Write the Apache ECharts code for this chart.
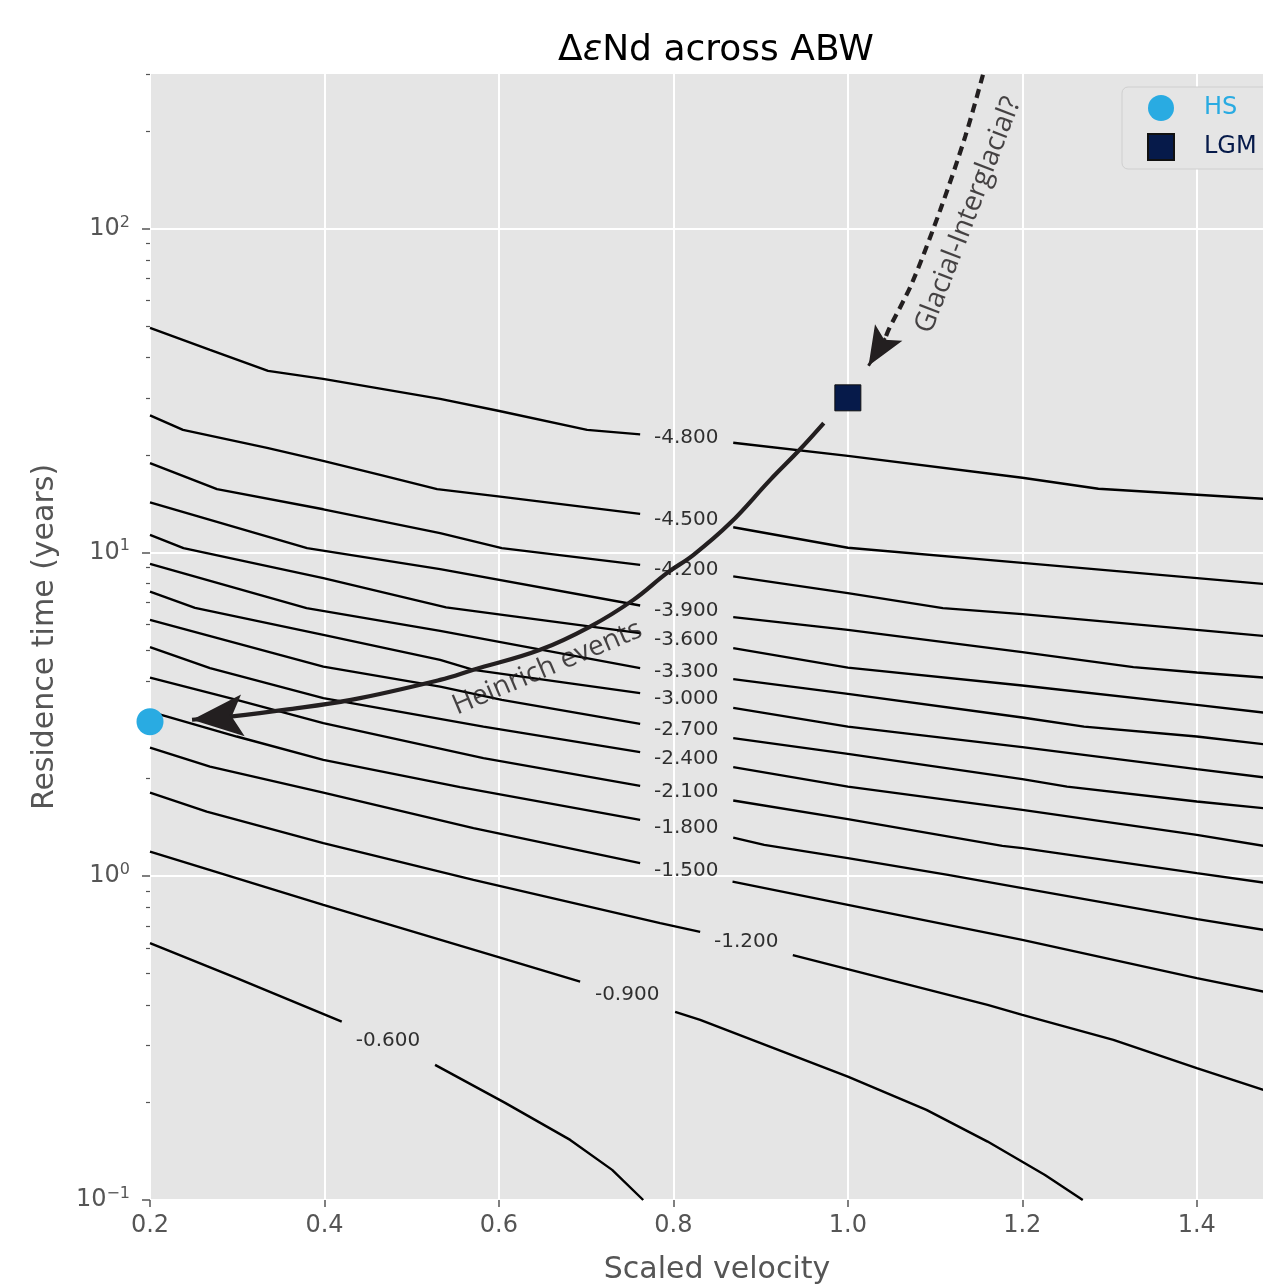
<!DOCTYPE html>
<html>
<head>
<meta charset="utf-8">
<title>ΔεNd across ABW</title>
<script src="https://cdn.jsdelivr.net/npm/echarts@6/dist/echarts.min.js"></script>
<style>
  html, body { margin: 0; padding: 0; background: #fff; }
  #chart { width: 1263px; height: 1286px; }
</style>
</head>
<body>
<div id="chart"></div>
<script>
// contour levels and where their inline labels sit
const levelValues = [-4.8, -4.5, -4.2, -3.9, -3.6, -3.3, -3.0, -2.7, -2.4, -2.1, -1.8, -1.5, -1.2, -0.9, -0.6];
const labelPoints = [
  [0.8147, 22.57], [0.8147, 12.60], [0.8147, 8.831], [0.8147, 6.596], [0.8147, 5.369],
  [0.8147, 4.275], [0.8147, 3.528], [0.8147, 2.830], [0.8147, 2.303], [0.8147, 1.821],
  [0.8147, 1.410], [0.8147, 1.038], [0.8835, 0.6268], [0.7470, 0.4298], [0.4729, 0.3099]
];

// each contour: [left of label, right of label], points are [velocity, residence time]
const line_4_8 = [
  [[0.2, 49.35], [0.2688, 42.22], [0.3353, 36.35], [0.3984, 34.34], [0.5326, 29.79], [0.5991, 27.36], [0.7011, 23.89], [0.7619, 23.14]],
  [[0.8686, 21.79], [1.0, 19.86], [1.2, 16.99], [1.2872, 15.71], [1.4764, 14.63]]
];
const line_4_5 = [
  [[0.2, 26.49], [0.2378, 23.89], [0.3342, 21.02], [0.3984, 19.17], [0.4638, 17.35], [0.5291, 15.68], [0.5991, 14.89], [0.7619, 13.15]],
  [[0.8686, 11.95], [1.0, 10.33], [1.2, 9.28], [1.4764, 7.99]]
];
const line_4_2 = [
  [[0.2, 18.86], [0.2768, 15.68], [0.3987, 13.58], [0.5326, 11.46], [0.6033, 10.30], [0.7619, 9.149]],
  [[0.8686, 8.432], [1.0, 7.482], [1.1089, 6.725], [1.2, 6.444], [1.4, 5.763], [1.4764, 5.521]]
];
const line_3_9 = [
  [[0.2, 14.27], [0.3801, 10.30], [0.5326, 8.874], [0.7619, 6.850]],
  [[0.8686, 6.308], [1.0, 5.763], [1.2, 4.918], [1.3273, 4.421], [1.4, 4.254], [1.4764, 4.105]]
];
const line_3_6 = [
  [[0.2, 11.32], [0.2384, 10.30], [0.3987, 8.324], [0.5394, 6.763], [0.7619, 5.630]],
  [[0.8686, 5.059], [1.0, 4.407], [1.2, 3.878], [1.4, 3.381], [1.4764, 3.200]]
];
const line_3_3 = [
  [[0.2, 9.215], [0.3795, 6.725], [0.5326, 5.722], [0.7619, 4.389]],
  [[0.8686, 4.059], [1.0, 3.656], [1.2, 3.089], [1.2708, 2.897], [1.4, 2.699], [1.4764, 2.557]]
];
const line_3_0 = [
  [[0.2, 7.566], [0.2516, 6.739], [0.3987, 5.561], [0.5326, 4.656], [0.5708, 4.337], [0.7619, 3.675]],
  [[0.8686, 3.309], [1.0, 2.897], [1.2, 2.503], [1.4, 2.141], [1.4764, 2.021]]
];
const line_2_7 = [
  [[0.2, 6.187], [0.3987, 4.439], [0.5326, 3.850], [0.6033, 3.503], [0.7619, 2.954]],
  [[0.8686, 2.669], [1.0, 2.386], [1.2, 1.993], [1.2513, 1.891], [1.4, 1.700], [1.4764, 1.622]]
];
const line_2_4 = [
  [[0.2, 5.096], [0.2688, 4.389], [0.3987, 3.545], [0.5822, 2.897], [0.7619, 2.416]],
  [[0.8686, 2.171], [1.0, 1.891], [1.2, 1.602], [1.4, 1.341], [1.4764, 1.2405]]
];
const line_2_1 = [
  [[0.2, 4.105], [0.2994, 3.503], [0.3987, 2.968], [0.5822, 2.314], [0.7619, 1.901]],
  [[0.8686, 1.712], [1.0, 1.500], [1.1771, 1.2405], [1.2, 1.2204], [1.4, 1.0216], [1.4764, 0.9554]]
];
const line_1_8 = [
  [[0.2, 3.223], [0.2994, 2.699], [0.3987, 2.287], [0.5555, 1.883], [0.7619, 1.4923]],
  [[0.8686, 1.3156], [0.9041, 1.2494], [1.0, 1.1366], [1.1148, 1.0093], [1.2, 0.9182], [1.4007, 0.7365], [1.4764, 0.6827]]
];
const line_1_5 = [
  [[0.2, 2.496], [0.2688, 2.180], [0.3987, 1.812], [0.5708, 1.4067], [0.7619, 1.0967]],
  [[0.8678, 0.9623], [1.0, 0.8155], [1.2, 0.6357], [1.4, 0.4842], [1.4764, 0.4402]]
];
const line_1_2 = [
  [[0.2, 1.812], [0.2650, 1.583], [0.3987, 1.2644], [0.5708, 0.9741], [0.7849, 0.7158], [0.8307, 0.6730]],
  [[0.9369, 0.5702], [1.1602, 0.4005], [1.2, 0.3729], [1.3044, 0.3122], [1.4, 0.2553], [1.4764, 0.2188]]
];
const line_0_9 = [
  [[0.2, 1.1912], [0.3987, 0.8155], [0.5976, 0.5646], [0.6931, 0.4726]],
  [[0.8020, 0.3810], [0.8307, 0.3599], [1.0, 0.2405], [1.0901, 0.1898], [1.1602, 0.1515], [1.2260, 0.1195], [1.2693, 0.1]]
];
const line_0_6 = [
  [[0.2, 0.6210], [0.2994, 0.4842], [0.4198, 0.3556]],
  [[0.5268, 0.2613], [0.6071, 0.1995], [0.6817, 0.1533], [0.7298, 0.1239], [0.7654, 0.1]]
];
const contourLines = [line_4_8, line_4_5, line_4_2, line_3_9, line_3_6, line_3_3, line_3_0,
  line_2_7, line_2_4, line_2_1, line_1_8, line_1_5, line_1_2, line_0_9, line_0_6];

// states
const hsPoint = [0.2, 3.0];
const lgmPoint = [1.0, 30.0];

// annotation arrows (last point is the arrow tip)
const heinrichPath = [[0.9724, 25.06], [0.9447, 20.73], [0.9110, 16.74], [0.8651, 12.31], [0.8231, 9.824],
  [0.7925, 8.625], [0.7542, 7.133], [0.7046, 5.899], [0.6472, 5.000], [0.5708, 4.337], [0.5326, 4.038],
  [0.4305, 3.503], [0.3537, 3.263], [0.2917, 3.111], [0.2482, 3.039]];
const glacialPath = [[1.1549, 298.4], [1.1346, 192.4], [1.1060, 114.24], [1.0735, 67.82], [1.0467, 48.66],
  [1.0429, 45.87], [1.0237, 37.67]];
const heinrichTextAt = [0.6553, 4.398];
const glacialTextAt = [1.1380, 110.0];

// ticks
const xTickValues = [0.2, 0.4, 0.6, 0.8, 1.0, 1.2, 1.4];
const yMajorTicks = [0.1, 1, 10, 100];
const yMinorTicks = [0.2, 0.3, 0.4, 0.5, 0.6, 0.7, 0.8, 0.9, 2, 3, 4, 5, 6, 7, 8, 9,
  20, 30, 40, 50, 60, 70, 80, 90, 200, 300];

const font = 'DejaVu Sans';
const tickColor = '#555555';
const arrowColor = '#231F20';
// arrow head drawn with its tip at the centre of the symbol box
const arrowHead = 'path://M0,0M100,100M50,50L70.5,100L50,89L29.5,100Z';
// square legend icon centred in a 76 x 26 item box
const squareIcon = 'path://M0,0M76,26M25,0L51,0L51,26L25,26Z';

const chart = echarts.init(document.getElementById('chart'));

function powerLabel(v) {
  const p = Math.round(Math.log10(v));
  return '{b|10}{s|' + (p < 0 ? '\u2212' + (-p) : p) + '}';
}

const series = [];

contourLines.forEach((segs, i) => {
  segs.forEach(seg => {
    series.push({
      name: 'level ' + levelValues[i],
      type: 'line',
      data: seg,
      symbol: 'none',
      silent: true,
      z: 2,
      lineStyle: { color: '#000', width: 2.4 }
    });
  });
});

series.push({
  name: 'level labels',
  type: 'scatter',
  symbolSize: 0,
  silent: true,
  z: 3,
  data: labelPoints.map((p, i) => ({ value: p, label: { formatter: levelValues[i].toFixed(3) } })),
  label: { show: true, position: 'inside', color: '#000', fontSize: 20, fontFamily: font }
});

series.push({
  name: 'heinrich',
  type: 'line',
  data: heinrichPath.slice(0, -1),
  symbol: 'none',
  smooth: 0.4,
  silent: true,
  z: 4,
  lineStyle: { color: arrowColor, width: 4.2 }
});
series.push({
  name: 'heinrich head',
  type: 'lines',
  coordinateSystem: 'cartesian2d',
  silent: true,
  z: 4,
  symbol: ['none', arrowHead],
  symbolSize: 102,
  lineStyle: { color: arrowColor, width: 4, opacity: 1 },
  data: [{ coords: heinrichPath.slice(-2) }]
});

series.push({
  name: 'glacial',
  type: 'line',
  data: glacialPath.slice(0, -1),
  symbol: 'none',
  smooth: 0.3,
  silent: true,
  z: 4,
  lineStyle: { color: arrowColor, width: 4.2, type: [9, 6] }
});
series.push({
  name: 'glacial head',
  type: 'lines',
  coordinateSystem: 'cartesian2d',
  silent: true,
  z: 4,
  symbol: ['none', arrowHead],
  symbolSize: 78,
  lineStyle: { color: arrowColor, width: 3, opacity: 1 },
  data: [{ coords: glacialPath.slice(-2) }]
});

series.push({
  name: 'notes',
  type: 'scatter',
  symbolSize: 0,
  silent: true,
  z: 5,
  data: [
    { value: heinrichTextAt, label: { formatter: 'Heinrich events', rotate: 23 } },
    { value: glacialTextAt, label: { formatter: 'Glacial-Interglacial?', rotate: 69 } }
  ],
  label: { show: true, position: 'inside', color: '#1c1819', fontSize: 28, fontFamily: 'Open Sans' }
});

series.push({
  name: 'HS',
  type: 'scatter',
  data: [hsPoint],
  symbol: 'circle',
  symbolSize: 27,
  clip: false,
  z: 6,
  itemStyle: { color: '#29ABE2', opacity: 1 }
});
series.push({
  name: 'LGM',
  type: 'scatter',
  data: [lgmPoint],
  symbol: 'rect',
  symbolSize: 26,
  clip: false,
  z: 6,
  itemStyle: { color: '#061A4A', borderColor: '#111', borderWidth: 1, opacity: 1 }
});

const option = {
  animation: false,
  backgroundColor: '#ffffff',
  title: {
    text: '{n|\u0394}{i|\u03b5}{n|Nd across ABW}',
    left: 711,
    top: 28,
    textAlign: 'center',
    textStyle: {
      fontWeight: 'normal',
      rich: {
        n: { fontSize: 36, fontFamily: font, fontWeight: 'normal', color: '#000' },
        i: { fontSize: 36, fontFamily: font, fontWeight: 'normal', fontStyle: 'italic', color: '#000' }
      }
    }
  },
  legend: {
    data: [
      { name: 'HS', textStyle: { color: '#29ABE2' } },
      { name: 'LGM', icon: squareIcon, textStyle: { color: '#061A4A' } }
    ],
    orient: 'vertical',
    left: 1122,
    top: 87,
    itemWidth: 76,
    itemHeight: 26,
    itemGap: 12,
    padding: [8, 40, 8, 0],
    backgroundColor: '#E5E5E5',
    borderColor: '#CFCFCF',
    borderWidth: 1,
    borderRadius: 6,
    selectedMode: false,
    textStyle: { fontSize: 24, fontFamily: font }
  },
  grid: {
    left: 150,
    top: 74,
    right: -21,
    bottom: 86,
    show: true,
    backgroundColor: '#E5E5E5',
    borderWidth: 0,
    containLabel: false,
    outerBoundsMode: 'none'
  },
  xAxis: {
    type: 'value',
    min: 0.2,
    max: 1.5,
    interval: 0.2,
    name: 'Scaled velocity',
    nameLocation: 'middle',
    nameGap: 55,
    nameTextStyle: { color: tickColor, fontSize: 30, fontFamily: font },
    axisLine: { show: false },
    axisTick: { show: true, length: 7, customValues: xTickValues, lineStyle: { color: tickColor, width: 1.5 } },
    axisLabel: {
      customValues: xTickValues,
      color: tickColor, fontSize: 24, fontFamily: font, margin: 14,
      formatter: v => v.toFixed(1)
    },
    splitLine: { show: true, lineStyle: { color: '#ffffff', width: 2 } }
  },
  yAxis: [
    {
      type: 'log',
      logBase: 10,
      min: 0.1,
      max: 300,
      name: 'Residence time (years)',
      nameLocation: 'middle',
      nameRotate: 90,
      nameGap: 90,
      nameTextStyle: { color: tickColor, fontSize: 30, fontFamily: font },
      axisLine: { show: false },
      axisTick: { show: true, length: 8, customValues: yMajorTicks, lineStyle: { color: tickColor, width: 1.5 } },
      axisLabel: {
        customValues: yMajorTicks,
        color: tickColor,
        margin: 20,
        formatter: powerLabel,
        rich: {
          b: { fontSize: 24, fontFamily: font, color: tickColor, lineHeight: 28 },
          s: { fontSize: 16, fontFamily: font, color: tickColor, lineHeight: 28, verticalAlign: 'top' }
        }
      },
      splitLine: { show: true, lineStyle: { color: '#ffffff', width: 2 } }
    },
    {
      type: 'log',
      logBase: 10,
      min: 0.1,
      max: 300,
      position: 'left',
      axisLine: { show: false },
      axisLabel: { show: false },
      splitLine: { show: false },
      axisTick: { show: true, length: 4, customValues: yMinorTicks, lineStyle: { color: tickColor, width: 1.2 } }
    }
  ],
  series: series
};

chart.setOption(option);
</script>
</body>
</html>
